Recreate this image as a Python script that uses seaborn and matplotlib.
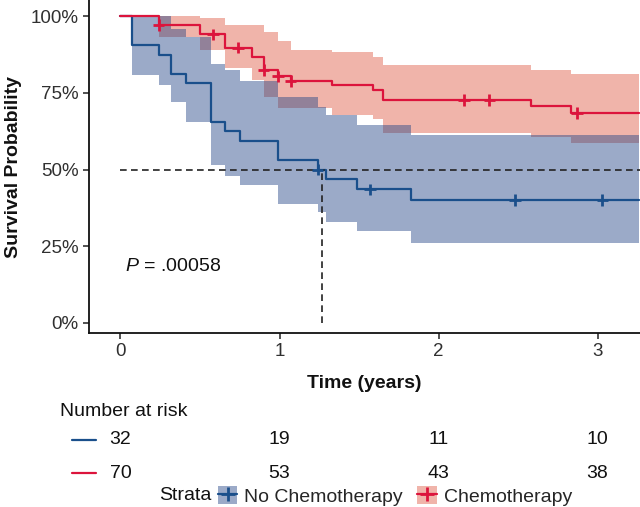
import numpy as np
import pandas as pd
import matplotlib
matplotlib.use("Agg")
import matplotlib.pyplot as plt
import seaborn as sns
from matplotlib.patches import Patch
from matplotlib.lines import Line2D
from matplotlib.legend_handler import HandlerTuple
from matplotlib.ticker import PercentFormatter

# --- data ---
strata = ["No Chemotherapy", "Chemotherapy"]

# No Chemotherapy: KM steps + 95% CI
nochemo_t = [0, 0.07, 0.24, 0.32, 0.41, 0.57, 0.66, 0.75, 0.99, 1.24, 1.29, 1.49, 1.83, 3.26]
nochemo_s = [1, 0.906, 0.875, 0.8125, 0.781, 0.656, 0.625, 0.594, 0.531, 0.50, 0.469, 0.435, 0.40, 0.40]
nochemo_lo = [1, 0.807, 0.775, 0.72, 0.655, 0.514, 0.48, 0.449, 0.389, 0.362, 0.329, 0.298, 0.261, 0.261]
nochemo_hi = [1, 1.0, 1.0, 0.96, 0.933, 0.845, 0.824, 0.79, 0.737, 0.704, 0.677, 0.645, 0.612, 0.612]
nochemo_cens_t = [1.24, 1.57, 2.48, 3.03]
nochemo_cens_s = [0.50, 0.435, 0.40, 0.40]

# Chemotherapy
chemo_t = [0, 0.24, 0.50, 0.66, 0.83, 0.90, 0.99, 1.07, 1.33, 1.59, 1.65, 2.58, 2.83, 3.26]
chemo_s = [1, 0.971, 0.941, 0.898, 0.867, 0.824, 0.804, 0.788, 0.775, 0.759, 0.726, 0.706, 0.685, 0.685]
chemo_lo = [1, 0.933, 0.889, 0.83, 0.791, 0.737, 0.70, 0.70, 0.677, 0.665, 0.618, 0.606, 0.585, 0.585]
chemo_hi = [1, 1.0, 0.993, 0.971, 0.971, 0.949, 0.919, 0.891, 0.882, 0.867, 0.84, 0.824, 0.811, 0.811]
chemo_cens_t = [0.24, 0.58, 0.74, 0.90, 0.99, 1.07, 2.16, 2.32, 2.87]
chemo_cens_s = [0.971, 0.941, 0.898, 0.824, 0.804, 0.788, 0.726, 0.726, 0.685]

median_time = 1.27
p_text = ".00058"

risk_times = [0, 1, 2, 3]
risk_nochemo = [32, 19, 11, 10]
risk_chemo = [70, 53, 43, 38]

# --- styling ---
line_col = {"No Chemotherapy": "#1A4F8B", "Chemotherapy": "#DC143C"}
fill_col = {"No Chemotherapy": "#214385", "Chemotherapy": "#DE5943"}
fill_alpha = 0.45

sns.set_theme(style="ticks")
plt.rcParams["font.family"] = ["Liberation Sans", "DejaVu Sans"]
plt.rcParams["mathtext.fontset"] = "custom"
plt.rcParams["mathtext.it"] = "Liberation Sans:italic"
plt.rcParams["mathtext.rm"] = "Liberation Sans"

curves = pd.concat([
    pd.DataFrame({"time": nochemo_t, "surv": nochemo_s, "Strata": strata[0]}),
    pd.DataFrame({"time": chemo_t, "surv": chemo_s, "Strata": strata[1]}),
])
cens = pd.concat([
    pd.DataFrame({"time": nochemo_cens_t, "surv": nochemo_cens_s, "Strata": strata[0]}),
    pd.DataFrame({"time": chemo_cens_t, "surv": chemo_cens_s, "Strata": strata[1]}),
])

W, H = 640, 507
fig = plt.figure(figsize=(6.4, 5.07), dpi=100)
ax = fig.add_axes([89 / W, 1 - 332.6 / H, 551 / W, 332.6 / H])

# confidence bands (chemo first, no chemo on top)
ax.fill_between(chemo_t, chemo_lo, chemo_hi, step="post",
                color=fill_col["Chemotherapy"], alpha=fill_alpha, lw=0)
ax.fill_between(nochemo_t, nochemo_lo, nochemo_hi, step="post",
                color=fill_col["No Chemotherapy"], alpha=fill_alpha, lw=0)

sns.lineplot(data=curves, x="time", y="surv", hue="Strata", palette=line_col,
             drawstyle="steps-post", estimator=None, lw=1.6, legend=False, ax=ax)
sns.scatterplot(data=cens, x="time", y="surv", hue="Strata", palette=line_col,
                marker="+", s=70, linewidth=2.0, legend=False, ax=ax, zorder=5)

xmin, xmax = -0.198, 3.267
ax.set_xlim(xmin, xmax)
ax.set_ylim(-0.032, 1.053)

# median lines
ax.hlines(0.5, 0, xmax, colors="#222222", lw=1.2, linestyles=(0, (4, 2.6)))
ax.vlines(median_time, 0, 0.5, colors="#222222", lw=1.2, linestyles=(0, (4, 2.6)))

ax.text(0.03, 0.185, "$P$ = " + p_text, fontsize=14, va="center", ha="left", color="#111111")

ax.set_xticks(risk_times)
ax.set_yticks([0, 0.25, 0.5, 0.75, 1.0])
ax.yaxis.set_major_formatter(PercentFormatter(1.0, decimals=0))
ax.tick_params(labelsize=13.5, labelcolor="#303030", length=4.5, width=1.1, color="#222222", pad=3)
for s in ["left", "bottom"]:
    ax.spines[s].set_linewidth(1.3)
    ax.spines[s].set_color("#111111")
sns.despine(ax=ax)
ax.set_xlabel("")
ax.set_ylabel("")

fig.text(14 / W, 1 - 167 / H, "Survival Probability", rotation=90, ha="center", va="center",
         fontsize=14, fontweight="bold", color="#111111")
fig.text(364 / W, 1 - 383 / H, "Time (years)", ha="center", va="center",
         fontsize=14, fontweight="bold", color="#111111")

# --- number at risk table ---
fig.text(60 / W, 1 - 412 / H, "Number at risk", ha="left", va="center", fontsize=14, color="#111111")
ax2 = fig.add_axes([89 / W, 1 - 489.5 / H, 551 / W, 66 / H])
ax2.set_xlim(xmin, xmax)
ax2.set_ylim(-0.5, 1.5)
ax2.axis("off")
for row, counts, name in [(1, risk_nochemo, strata[0]), (0, risk_chemo, strata[1])]:
    for t, n in zip(risk_times, counts):
        ax2.text(t, row, str(n), ha="center", va="center", fontsize=14, color="#111111")
    ax2.plot([-0.305, -0.154], [row, row], color=line_col[name], lw=1.6, clip_on=False)

# --- legend ---
fig.text(159 / W, 1 - 496 / H, "Strata", ha="left", va="center", fontsize=14, color="#111111")
handles = []
for name in strata:
    handles.append((Patch(facecolor=fill_col[name], alpha=fill_alpha, lw=0),
                    Line2D([], [], color=line_col[name], lw=1.6, marker="+",
                           markersize=10, markeredgewidth=2.0)))
fig.legend(handles, strata, handler_map={tuple: HandlerTuple(ndivide=1)},
           loc="center left", bbox_to_anchor=(218 / W, 1 - 496 / H), ncol=2,
           frameon=False, borderpad=0, borderaxespad=0, handlelength=1.0,
           handleheight=1.0, handletextpad=0.35, columnspacing=0.75, fontsize=14)

fig.savefig("out.png", dpi=100)
